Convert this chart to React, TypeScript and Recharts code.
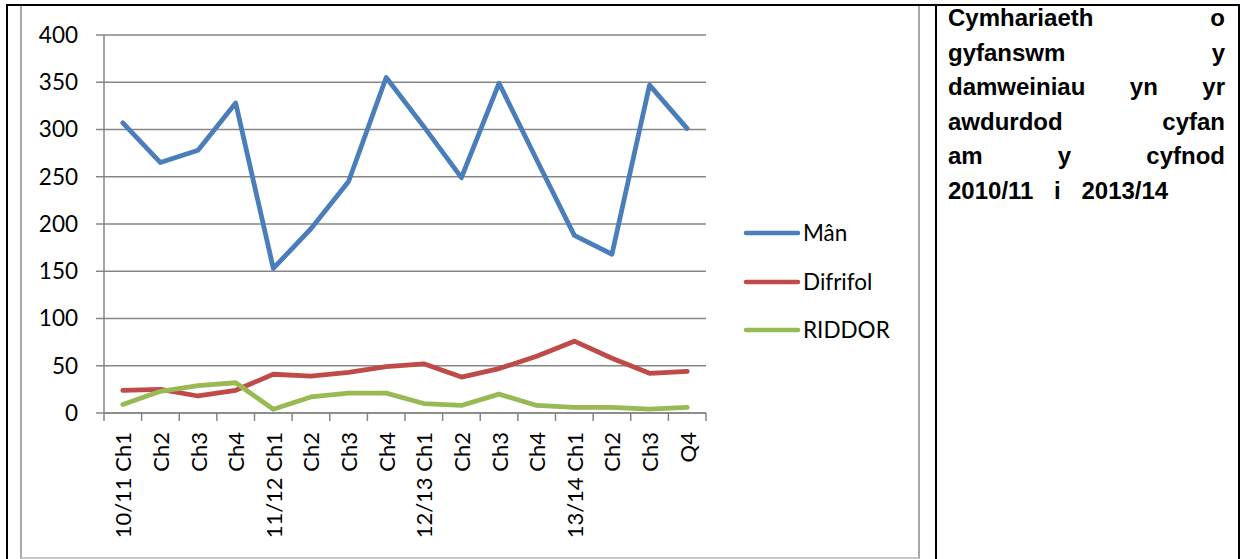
import React from "react";
import { LineChart, Line, XAxis, YAxis, CartesianGrid, Legend } from "recharts";

const categories = [
  "10/11 Ch1", "Ch2", "Ch3", "Ch4",
  "11/12 Ch1", "Ch2", "Ch3", "Ch4",
  "12/13 Ch1", "Ch2", "Ch3", "Ch4",
  "13/14 Ch1", "Ch2", "Ch3", "Q4",
];
const manValues = [307, 265, 278, 328, 153, 195, 245, 355, 303, 249, 349, 268, 188, 168, 347, 301];
const difrifolValues = [24, 25, 18, 24, 41, 39, 43, 49, 52, 38, 47, 60, 76, 58, 42, 44];
const riddorValues = [9, 23, 29, 32, 4, 17, 21, 21, 10, 8, 20, 8, 6, 6, 4, 6];
const yTicks = [0, 50, 100, 150, 200, 250, 300, 350, 400];
const seriesNames = ["Mân", "Difrifol", "RIDDOR"];
const captionLines = [
  ["Cymhariaeth", "o"],
  ["gyfanswm", "y"],
  ["damweiniau", "yn", "yr"],
  ["awdurdod", "cyfan"],
  ["am", "y", "cyfnod"],
];
const captionLast = "2010/11 i 2013/14";

const data = categories.map((c, i) => ({
  pos: i + 0.5,
  label: c,
  man: manValues[i],
  difrifol: difrifolValues[i],
  riddor: riddorValues[i],
}));

const xTicks: number[] = [];
for (let i = 0; i <= categories.length; i++) {
  xTicks.push(i);
  if (i < categories.length) xTicks.push(i + 0.5);
}

const FONT = "Lato, 'Open Sans', sans-serif";
const GRID = "#868686";

const XTick = (props: any) => {
  const { x, y, payload } = props;
  const v = payload.value as number;
  if (Number.isInteger(v)) {
    return <line x1={x} x2={x} y1={y} y2={y + 8} stroke={GRID} strokeWidth={1.5} />;
  }
  const label = categories[Math.floor(v)];
  const ty = y + 19;
  return (
    <text
      x={x}
      y={ty}
      transform={`rotate(-90, ${x}, ${ty})`}
      textAnchor="end"
      dominantBaseline="central"
      fontFamily={FONT}
      fontSize={22}
      fill="#000"
    >
      {label}
    </text>
  );
};

const LegendContent = (props: any) => {
  const payload = [...(props.payload || [])].sort(
    (a: any, b: any) => seriesNames.indexOf(a.value) - seriesNames.indexOf(b.value)
  );
  return (
    <div>
      {payload.map((p: any) => (
        <div key={p.value} style={{ height: 48.5, display: "flex", alignItems: "center" }}>
          <svg width={60} height={10} style={{ display: "block" }}>
            <line x1={3} x2={55} y1={5} y2={5} stroke={p.color} strokeWidth={4.5} strokeLinecap="round" />
          </svg>
          <span style={{ fontFamily: FONT, fontSize: 22.5, color: "#000", lineHeight: 1 }}>
            {p.value}
          </span>
        </div>
      ))}
    </div>
  );
};

export default function App() {
  return (
    <div style={{ position: "absolute", left: 0, top: 0, width: 1240, height: 559, background: "#fff", overflow: "hidden" }}>
      {/* table borders */}
      <div style={{ position: "absolute", left: 6, top: 4, width: 1230, height: 600, borderTop: "2px solid #000", borderLeft: "2px solid #000", borderRight: "2px solid #000" }} />
      <div style={{ position: "absolute", left: 935, top: 4, width: 2, height: 600, background: "#000" }} />
      {/* chart frame */}
      <div style={{ position: "absolute", left: 20, top: 6, width: 896, height: 551, borderLeft: "2px solid #a8a8a8", borderRight: "2px solid #a8a8a8", borderBottom: "2px solid #c8c8c8" }} />
      <div style={{ position: "absolute", left: 21, top: 5 }}>
        <LineChart width={896} height={553} data={data} margin={{ top: 30, right: 211, left: 0, bottom: 0 }}>
          <CartesianGrid horizontal={true} vertical={false} stroke={GRID} strokeWidth={1.5} />
          <XAxis
            dataKey="pos"
            type="number"
            domain={[0, categories.length]}
            ticks={xTicks}
            interval={0}
            height={145}
            tickSize={0}
            tickMargin={0}
            tickLine={false}
            axisLine={{ stroke: GRID, strokeWidth: 1.5 }}
            tick={<XTick />}
          />
          <YAxis
            domain={[0, 400]}
            ticks={yTicks}
            width={83}
            tickSize={8}
            tickMargin={18}
            interval={0}
            axisLine={{ stroke: GRID, strokeWidth: 1.5 }}
            tickLine={{ stroke: GRID, strokeWidth: 1.5 }}
            tick={{ fontFamily: FONT, fontSize: 22.5, fill: "#000" }}
          />
          <Legend
            layout="horizontal"
            align="center"
            verticalAlign="middle"
            content={<LegendContent />}
            wrapperStyle={{ left: 722, top: 204, width: 170 }}
          />
          <Line type="linear" dataKey="man" name={seriesNames[0]} stroke="#4a7ebb" strokeWidth={4.8} dot={false} isAnimationActive={false} strokeLinejoin="round" strokeLinecap="round" />
          <Line type="linear" dataKey="difrifol" name={seriesNames[1]} stroke="#be4b48" strokeWidth={4.8} dot={false} isAnimationActive={false} strokeLinejoin="round" strokeLinecap="round" />
          <Line type="linear" dataKey="riddor" name={seriesNames[2]} stroke="#98b954" strokeWidth={4.8} dot={false} isAnimationActive={false} strokeLinejoin="round" strokeLinecap="round" />
        </LineChart>
      </div>
      {/* caption */}
      <div style={{ position: "absolute", left: 948, top: 1, width: 277, fontFamily: "'Liberation Sans', Arial, sans-serif", fontWeight: "bold", fontSize: 24, lineHeight: "34.5px", color: "#000" }}>
        {captionLines.map((words, i) => (
          <div key={i} style={{ display: "flex", justifyContent: "space-between" }}>
            {words.map((w, j) => (
              <span key={j}>{w}</span>
            ))}
          </div>
        ))}
        <div style={{ wordSpacing: 14 }}>{captionLast}</div>
      </div>
    </div>
  );
}
